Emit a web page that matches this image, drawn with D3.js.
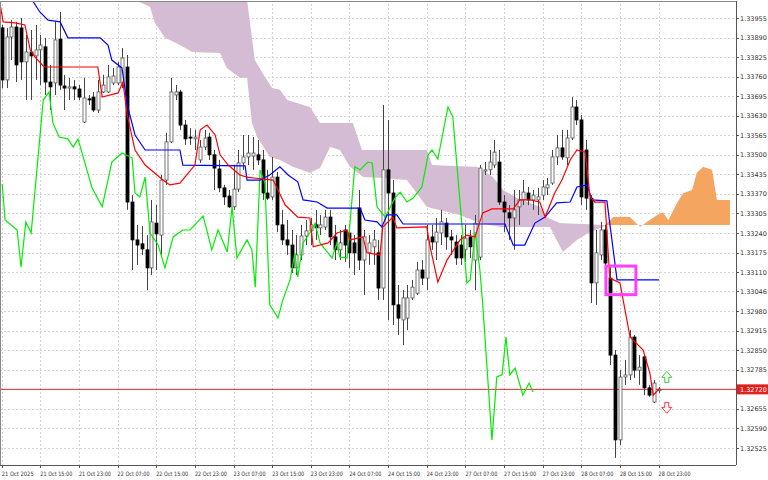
<!DOCTYPE html>
<html>
<head>
<meta charset="utf-8">
<script src="https://cdn.jsdelivr.net/npm/d3@7"></script>
<style>
  body { margin: 0; background: #fff; }
  svg { display: block; font-family: "DejaVu Sans", sans-serif; }
</style>
</head>
<body>
<div id="chart"></div>
<script>
// prices are in points (1 point = 0.00001)
var opens = [133922,133749,133892,133925,133922,133809,133842,133829,133849,133859,133742,133739,133885,133729,133722,133726,133719,133609,133686,133692,
  133649,133709,133709,133739,133739,133739,133792,133343,133217,133204,133184,133124,133273,133233,133416,133543,133699,133709,133599,133559,
  133553,133483,133526,133559,133500,133453,133390,133363,133327,133386,133473,133493,133496,133500,133483,133373,133360,133426,133267,133217,
  133200,133124,133167,133230,133247,133267,133257,133260,133293,133227,133184,133250,133240,133207,133323,133150,133174,133194,133174,133057,
  133450,133373,133001,132951,132957,133024,133040,133117,133090,133227,133210,133240,133273,133227,133210,133200,133184,133227,133150,133160,
  133446,133450,133466,133476,133343,133307,133290,133327,133350,133373,133350,133350,133366,133390,133406,133493,133523,133490,133556,133659,
  133616,133516,133356,133074,133167,133250,133090,132834,132552,132761,132768,132894,132784,132828,132725,132678,132718];
var highs = [133932,133922,133948,133942,133955,133899,133915,133932,133899,133889,133799,133942,133975,133766,133756,133749,133732,133756,133699,133709,
  133749,133766,133799,133789,133809,133855,133832,133366,133267,133263,133233,133350,133333,133433,133573,133756,133732,133716,133616,133589,
  133583,133549,133583,133573,133516,133483,133400,133383,133466,133516,133566,133566,133559,133549,133516,133450,133493,133443,133317,133283,
  133250,133233,133267,133283,133290,133317,133300,133317,133317,133267,133250,133267,133267,133233,133383,133250,133233,133250,133217,133666,
  133616,133416,133067,133050,133067,133084,133144,133150,133267,133267,133290,133317,133290,133250,133233,133233,133267,133250,133300,133466,
  133476,133516,133549,133516,133366,133333,133383,133383,133416,133393,133383,133390,133416,133423,133516,133566,133583,133583,133692,133682,
  133632,133549,133366,133250,133277,133267,133134,132851,132784,132818,132917,132901,132834,132834,132735,132751,132728];
var lows = [133722,133722,133815,133742,133749,133682,133682,133749,133732,133699,133649,133699,133716,133649,133682,133682,133682,133606,133666,133642,
  133639,133706,133706,133732,133732,133722,133317,133117,133134,133167,133050,133100,133117,133167,133400,133539,133682,133583,133533,133533,
  133516,133473,133516,133483,133383,133376,133333,133323,133317,133376,133450,133466,133450,133466,133350,133350,133350,133243,133200,133167,
  133107,133100,133150,133200,133200,133217,133233,133250,133200,133150,133150,133144,133124,133100,133117,133034,133134,133134,133017,133017,
  132951,132934,132901,132867,132917,133017,133034,133067,133050,133184,133150,133200,133184,133167,133134,133134,133144,133157,133050,133150,
  133433,133433,133456,133333,133243,133217,133184,133267,133333,133333,133317,133300,133350,133366,133400,133466,133483,133466,133549,133599,
  133333,133317,133007,133001,133150,133117,132801,132492,132535,132735,132751,132758,132735,132701,132695,132675,132708];
var closes = [133749,133892,133925,133799,133809,133842,133829,133849,133865,133742,133726,133882,133732,133722,133726,133719,133692,133689,133684,133649,
  133709,133732,133759,133762,133792,133822,133343,133217,133200,133187,133124,133277,133237,133416,133543,133709,133709,133599,133553,133556,
  133559,133526,133556,133500,133456,133390,133360,133327,133386,133473,133493,133506,133506,133483,133373,133356,133426,133267,133217,133200,
  133124,133167,133230,133247,133267,133257,133267,133293,133227,133184,133207,133200,133174,133174,133150,133227,133207,133217,133057,133450,
  133373,133001,132957,133024,133024,133060,133117,133090,133217,133210,133243,133277,133227,133217,133157,133157,133223,133194,133273,133456,
  133450,133476,133509,133343,133310,133290,133317,133350,133376,133350,133366,133360,133393,133400,133493,133523,133493,133556,133659,133616,
  133360,133356,133074,133174,133250,133140,132834,132552,132761,132768,132894,132784,132794,132725,132701,132741,132720];

// indicator lines as [bar index, points]
var tenkan = [[-0.3,133998],[0.3,133942],[2.8,133939],[4.8,133932],[5.9,133849],[6.9,133825],[8.8,133792],[19.9,133792],[20.8,133692],[24.1,133706],
  [25.1,133742],[26,133632],[27.6,133516],[29.7,133466],[33.4,133416],[34.8,133400],[36.9,133406],[40,133466],[41.1,133583],[42.5,133599],
  [44.2,133566],[45.2,133500],[46.9,133466],[49.3,133433],[51,133425],[56.2,133416],[58.7,133333],[61.3,133293],[63.8,133290],[64.5,133194],
  [67.6,133207],[69.4,133240],[71.5,133250],[72.1,133217],[74.8,133227],[75.6,133174],[78.3,133167],[78.9,133260],[81,133293],[81.8,133257],
  [88,133260],[88.7,133194],[90.3,133077],[92.2,133150],[94.9,133217],[96.3,133233],[98,133227],[99.6,133307],[101.5,133320],[105.9,133320],
  [107.3,133350],[109.4,133350],[111.4,133343],[112.5,133293],[114.5,133373],[116,133416],[117.7,133483],[119.1,133516],[120.8,133509],
  [121.8,133360],[122.8,133343],[124.9,133343],[125.9,133090],[128,133074],[130.1,132894],[132.8,132851],[134.2,132774],[134.9,132701],[136.3,132725]];
var kijun = [[6.3,134015],[7.9,133975],[9.6,133948],[12.1,133942],[13.7,133889],[20.4,133889],[22,133865],[22.8,133815],[24.9,133789],[26,133666],
  [27.6,133566],[29.7,133516],[36.9,133516],[37.5,133466],[50.4,133463],[50.8,133416],[53.5,133416],[55.5,133433],[57.6,133460],[59.3,133433],
  [61.3,133410],[62.4,133350],[65.3,133343],[67.4,133323],[74.2,133323],[75.2,133283],[77.7,133277],[78.7,133260],[79.8,133300],[81.8,133300],
  [83.1,133270],[104.2,133270],[105.9,133200],[108.3,133200],[110.4,133273],[112.5,133293],[114.9,133340],[117.7,133343],[119.1,133393],
  [121.2,133400],[122.2,133350],[125.3,133347],[127.4,133084],[136.1,133084]];
var chikou = [[0.1,133403],[0.7,133283],[3.2,133250],[4,133127],[5,133277],[6.1,133240],[8.6,133682],[9.8,133709],[10.6,133606],[11.9,133559],
  [13.7,133553],[14.8,133526],[15.8,133553],[18.7,133390],[20.8,133327],[22.8,133476],[24.9,133506],[27,133490],[27.6,133373],[28.6,133360],
  [29.7,133426],[30.7,133240],[32.4,133200],[33.8,133124],[35.5,133227],[37.5,133250],[39,133250],[41.7,133297],[43.5,133184],[44.8,133250],
  [46.7,133177],[47.7,133327],[48.7,133157],[50.8,133217],[51.8,133184],[52.5,133060],[53.5,133450],[54.5,133406],[55.5,133001],[57.2,132957],
  [58.2,133017],[59.7,133084],[60.7,133174],[61.3,133094],[62.4,133207],[63.8,133240],[64.9,133273],[65.9,133207],[68.4,133157],[69.4,133207],
  [70,133160],[71.5,133157],[73.1,133460],[74.2,133450],[75.8,133476],[76.7,133473],[77.7,133327],[79.4,133293],[81.4,133356],[82.5,133376],
  [83.9,133343],[85.2,133356],[87,133393],[88.3,133500],[89.1,133516],[90.3,133486],[92.4,133659],[93.4,133626],[96.3,133074],[97,133084],
  [98,133243],[99,133117],[99.6,133001],[101.5,132552],[102.5,132761],[103.6,132768],[104.4,132894],[105.2,132768],[106.3,132791],
  [107.9,132701],[109.2,132741],[110,132711]];
var spanA = [[27.2,134032],[27.6,134015],[30.7,133992],[31.7,133939],[33.8,133889],[36.9,133865],[39.4,133842],[45.2,133839],[46.6,133789],
  [49.3,133756],[50.8,133756],[51.8,133606],[52.9,133559],[55.5,133493],[57.6,133483],[60.3,133460],[63.8,133440],[65.9,133456],[68,133526],
  [70,133516],[72.1,133460],[74.8,133426],[78.9,133423],[83.9,133416],[88,133327],[94.9,133300],[99,133273],[103.2,133260],[113.5,133260],
  [116.2,133177],[119.1,133217],[121.8,133243],[124.5,133260],[126.6,133293],[130.1,133293],[132.2,133260],[133.6,133277],[135.7,133300],
  [136.9,133310],[138,133283],[139.8,133340],[141.1,133373],[142.9,133383],[143.9,133440],[145.2,133460],[147.1,133450],[148.1,133350],[150.8,133350]];
var spanB = [[27.2,134115],[50.4,134115],[50.8,134015],[52.4,133815],[54.5,133759],[56,133722],[57.6,133716],[59.1,133682],[63.8,133659],
  [65.9,133606],[72.7,133606],[74.6,133516],[88,133516],[89.1,133466],[98.4,133460],[101.7,133426],[103.8,133383],[106.7,133356],
  [111.4,133327],[113.1,133290],[115.6,133273],[124.5,133267],[150.8,133267]];

var priceTicks = [133955,133890,133825,133760,133695,133630,133565,133500,133435,133370,133305,133240,133175,133110,133046,132980,132915,
  132850,132785,132720,132655,132590,132525];
var timeLabels = ["21 Oct 2025","21 Oct 15:00","21 Oct 23:00","22 Oct 07:00","22 Oct 15:00","22 Oct 23:00","23 Oct 07:00","23 Oct 15:00",
  "23 Oct 23:00","24 Oct 07:00","24 Oct 15:00","24 Oct 23:00","27 Oct 07:00","27 Oct 15:00","27 Oct 23:00","28 Oct 07:00","28 Oct 15:00","28 Oct 23:00"];
var lastPrice = 132720;

var width = 768, height = 480, plotRight = 736, plotBottom = 465;

var svg = d3.select('#chart').append('svg')
  .attr('width', width).attr('height', height);

var x = d3.scaleLinear().domain([0, 150]).range([1.7, 1.7 + 4.83 * 150]);
var y = d3.scaleLinear().domain([132525, 133955]).range([448, 18]);

svg.append('clipPath').attr('id', 'plot')
  .append('rect').attr('x', 0).attr('y', 1).attr('width', plotRight).attr('height', plotBottom - 1);

var g = svg.append('g').attr('clip-path', 'url(#plot)');

// grid
g.selectAll('.hgrid').data(priceTicks).enter().append('line')
  .attr('x1', 0).attr('x2', plotRight)
  .attr('y1', function(d){ return Math.round(y(d)) + 0.5; })
  .attr('y2', function(d){ return Math.round(y(d)) + 0.5; })
  .attr('stroke', '#d4d4d4').attr('stroke-dasharray', '2,2');
g.selectAll('.vgrid').data(timeLabels).enter().append('line')
  .attr('x1', function(d, i){ return Math.round(x(i * 8)) + 0.5; })
  .attr('x2', function(d, i){ return Math.round(x(i * 8)) + 0.5; })
  .attr('y1', 0).attr('y2', plotBottom)
  .attr('stroke', '#d4d4d4').attr('stroke-dasharray', '2,2');

// cloud: sample both spans at common points
function interp(arr, t) {
  for (var k = 0; k < arr.length - 1; k++) {
    if (t >= arr[k][0] && t <= arr[k + 1][0]) {
      var f = (t - arr[k][0]) / (arr[k + 1][0] - arr[k][0] || 1);
      return arr[k][1] + f * (arr[k + 1][1] - arr[k][1]);
    }
  }
  return null;
}
var cloudX = spanA.map(function(d){ return d[0]; }).concat(spanB.map(function(d){ return d[0]; }))
  .sort(function(a, b){ return a - b; });
var cloud = cloudX.map(function(t){ return { t: t, a: interp(spanA, t), b: interp(spanB, t) }; })
  .filter(function(d){ return d.a !== null && d.b !== null; });

svg.append('clipPath').attr('id', 'aboveA').append('path')
  .attr('d', d3.area().x(function(d){ return x(d.t); }).y0(function(d){ return y(d.a); }).y1(-500)(cloud));
svg.append('clipPath').attr('id', 'belowA').append('path')
  .attr('d', d3.area().x(function(d){ return x(d.t); }).y0(function(d){ return y(d.a); }).y1(1000)(cloud));

var band = d3.area().x(function(d){ return x(d.t); })
  .y0(function(d){ return y(d.a); }).y1(function(d){ return y(d.b); });
g.append('g').attr('clip-path', 'url(#aboveA)').append('path')
  .attr('d', band(cloud)).attr('fill', '#d5bcd5');
g.append('g').attr('clip-path', 'url(#belowA)').append('path')
  .attr('d', band(cloud)).attr('fill', '#f4a661');

// price line
g.append('line').attr('x1', 0).attr('x2', plotRight)
  .attr('y1', y(lastPrice)).attr('y2', y(lastPrice))
  .attr('stroke', '#e03030').attr('stroke-width', 1);

// candles
var idx = d3.range(opens.length);
g.selectAll('.wick').data(idx).enter().append('line')
  .attr('x1', function(i){ return Math.round(x(i)) + 0.5; })
  .attr('x2', function(i){ return Math.round(x(i)) + 0.5; })
  .attr('y1', function(i){ return y(highs[i]); })
  .attr('y2', function(i){ return y(lows[i]); })
  .attr('stroke', '#444');
g.selectAll('.body').data(idx).enter().append('rect')
  .attr('x', function(i){ return Math.round(x(i)) - 1; })
  .attr('width', 3)
  .attr('y', function(i){ return y(Math.max(opens[i], closes[i])); })
  .attr('height', function(i){ return Math.max(1, Math.abs(y(opens[i]) - y(closes[i]))); })
  .attr('fill', function(i){ return closes[i] >= opens[i] ? '#fff' : '#000'; })
  .attr('stroke', function(i){ return closes[i] >= opens[i] ? '#555' : '#000'; })
  .attr('stroke-width', 0.8);

// ichimoku lines
var line = d3.line().x(function(d){ return x(d[0]); }).y(function(d){ return y(d[1]); });
g.append('path').attr('d', line(chikou)).attr('fill', 'none').attr('stroke', '#00ee00').attr('stroke-width', 1.2);
g.append('path').attr('d', line(kijun)).attr('fill', 'none').attr('stroke', '#0000ff').attr('stroke-width', 1.2);
g.append('path').attr('d', line(tenkan)).attr('fill', 'none').attr('stroke', '#ff0000').attr('stroke-width', 1.2);

// highlight box
g.append('rect')
  .attr('x', x(125.1)).attr('width', x(131.3) - x(125.1))
  .attr('y', y(133130)).attr('height', y(133035) - y(133130))
  .attr('fill', 'none').attr('stroke', '#ff40ff').attr('stroke-width', 3);

// arrows
function arrow(cx, cy, s) {
  return 'M' + (cx - 2) + ',' + (cy + 5 * s) + 'L' + (cx - 2) + ',' + cy + 'L' + (cx - 5) + ',' + cy +
    'L' + cx + ',' + (cy - 6 * s) + 'L' + (cx + 5) + ',' + cy + 'L' + (cx + 2) + ',' + cy + 'L' + (cx + 2) + ',' + (cy + 5 * s) + 'Z';
}
g.append('path').attr('d', arrow(x(137.7), y(132760), 1)).attr('fill', '#fff').attr('stroke', '#33cc33');
g.append('path').attr('d', arrow(x(137.7), y(132660), -1)).attr('fill', '#fff').attr('stroke', '#ff3344');

// frame
svg.append('line').attr('x1', plotRight + 0.5).attr('x2', plotRight + 0.5).attr('y1', 1).attr('y2', plotBottom).attr('stroke', '#555');
svg.append('line').attr('x1', 0).attr('x2', plotRight).attr('y1', plotBottom + 0.5).attr('y2', plotBottom + 0.5).attr('stroke', '#555');
svg.append('line').attr('x1', 0).attr('x2', plotRight).attr('y1', 1.5).attr('y2', 1.5).attr('stroke', '#888');
svg.append('line').attr('x1', 0.5).attr('x2', 0.5).attr('y1', 1).attr('y2', plotBottom).attr('stroke', '#888');

// right axis
var ax = svg.append('g');
ax.selectAll('.tk').data(priceTicks).enter().append('line')
  .attr('x1', plotRight).attr('x2', plotRight + 3)
  .attr('y1', function(d){ return Math.round(y(d)) + 0.5; })
  .attr('y2', function(d){ return Math.round(y(d)) + 0.5; })
  .attr('stroke', '#555');
ax.selectAll('.tl').data(priceTicks).enter().append('text')
  .attr('x', plotRight + 4).attr('y', function(d){ return y(d) + 2.5; })
  .attr('font-size', 6.5).attr('fill', '#333')
  .text(function(d){ return (d / 1e5).toFixed(5); });
ax.append('rect').attr('x', plotRight + 1).attr('y', y(lastPrice) - 5).attr('width', 31).attr('height', 10).attr('fill', '#e0201c');
ax.append('text').attr('x', plotRight + 4).attr('y', y(lastPrice) + 2.5)
  .attr('font-size', 6.5).attr('fill', '#fff').text((lastPrice / 1e5).toFixed(5));

// time axis
var tx = svg.append('g');
tx.selectAll('.tt').data(timeLabels).enter().append('line')
  .attr('x1', function(d, i){ return Math.round(x(i * 8)) + 0.5; })
  .attr('x2', function(d, i){ return Math.round(x(i * 8)) + 0.5; })
  .attr('y1', plotBottom).attr('y2', plotBottom + 3).attr('stroke', '#555');
tx.selectAll('.tlb').data(timeLabels).enter().append('text')
  .attr('x', function(d, i){ return x(i * 8); }).attr('y', 476)
  .attr('font-size', 6).attr('fill', '#333')
  .attr('textLength', 32).attr('lengthAdjust', 'spacingAndGlyphs')
  .text(function(d){ return d; });
</script>
</body>
</html>
